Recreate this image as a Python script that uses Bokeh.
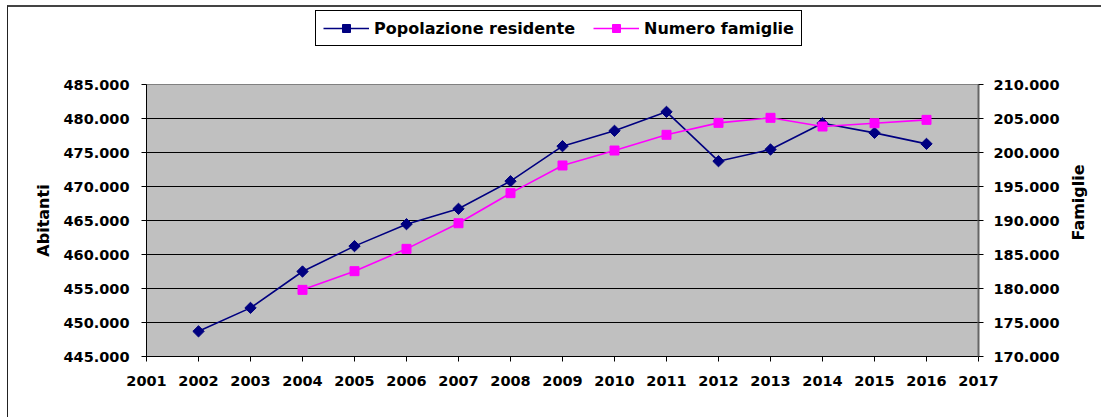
import math
from bokeh.plotting import figure
from bokeh.layouts import column, row
from bokeh.models import (Range1d, LinearAxis, FixedTicker, CustomJSTickFormatter,
                          Legend, LegendItem, Label)
from bokeh.embed import file_html
from bokeh.resources import INLINE

# ---- data ----
years_pop = [2002, 2003, 2004, 2005, 2006, 2007, 2008, 2009, 2010, 2011, 2012, 2013, 2014, 2015, 2016]
popolazione = [448700, 452150, 457500, 461230, 464460, 466720, 470780, 475930, 478190, 480980,
               473720, 475440, 479310, 477890, 476270]
years_fam = [2004, 2005, 2006, 2007, 2008, 2009, 2010, 2011, 2012, 2013, 2014, 2015, 2016]
famiglie = [179800, 182550, 185830, 189600, 194020, 198090, 200290, 202600, 204360, 205100,
            203820, 204310, 204800]
x_ticks = list(range(2001, 2018))
left_ticks = list(range(445000, 485001, 5000))
right_ticks = list(range(170000, 210001, 5000))
series_labels = ["Popolazione residente", "Numero famiglie"]
axis_titles = ["Abitanti", "Famiglie"]

FONT = "DejaVu Sans"
NAVY = "#000080"
MAGENTA = "#FF00FF"
fmt_code = "return Math.round(tick).toString().replace(/\\B(?=(\\d{3})+(?!\\d))/g, '.');"

# ---- main chart ----
p = figure(width=1054, height=365, output_backend="svg", toolbar_location=None,
           x_range=Range1d(2001, 2017), y_range=Range1d(445000, 485000),
           min_border_left=138, min_border_right=83, min_border_top=32, min_border_bottom=61,
           background_fill_color="#C0C0C0", border_fill_color="white",
           outline_line_color="#808080", outline_line_width=1)
p.extra_y_ranges = {"fam": Range1d(170000, 210000)}

p.xgrid.visible = False
p.ygrid.ticker = FixedTicker(ticks=left_ticks)
p.ygrid.grid_line_color = "black"
p.ygrid.grid_line_width = 1

xa = p.xaxis[0]
xa.ticker = FixedTicker(ticks=x_ticks)
ya = p.yaxis[0]
ya.ticker = FixedTicker(ticks=left_ticks)
ya.formatter = CustomJSTickFormatter(code=fmt_code)
ya.axis_label = axis_titles[0]
ya.major_label_standoff = 12
ya.axis_label_standoff = 7

ra = LinearAxis(y_range_name="fam", ticker=FixedTicker(ticks=right_ticks),
                formatter=CustomJSTickFormatter(code=fmt_code))
ra.major_label_standoff = 10
p.add_layout(ra, "right")

for ax in [xa, ya, ra]:
    ax.major_label_text_font = FONT
    ax.major_label_text_font_style = "bold"
    ax.major_label_text_font_size = "14.5px"
    ax.major_label_text_color = "black"
    ax.axis_label_text_font = FONT
    ax.axis_label_text_font_style = "bold"
    ax.axis_label_text_font_size = "16px"
    ax.axis_label_text_color = "black"
    ax.axis_line_color = "black"
    ax.major_tick_line_color = "black"
    ax.major_tick_out = 5
    ax.major_tick_in = 0
    ax.minor_tick_line_color = None
xa.major_label_standoff = 14
ra.axis_line_color = "#666666"
ra.axis_line_width = 2

p.line(years_pop, popolazione, line_color=NAVY, line_width=1.6)
p.scatter(years_pop, popolazione, marker="square", angle=math.pi / 4, size=8,
          fill_color=NAVY, line_color=NAVY)
p.line(years_fam, famiglie, line_color=MAGENTA, line_width=1.6, y_range_name="fam")
p.scatter(years_fam, famiglie, marker="square", size=9, fill_color=MAGENTA,
          line_color=MAGENTA, y_range_name="fam")

# ---- legend strip (swatch renderers carry NaN only, so they draw nothing themselves) ----
lg = figure(width=1054, height=45, output_backend="svg", toolbar_location=None,
            x_range=Range1d(0, 1), y_range=Range1d(0, 1), x_axis_type=None, y_axis_type=None,
            min_border=0, outline_line_color=None, background_fill_color="white",
            border_fill_color="white")
lg.grid.visible = False
nan = [float("nan")]
l1 = lg.line(nan, nan, line_color=NAVY, line_width=1.6)
m1 = lg.scatter(nan, nan, marker="square", angle=math.pi / 4, size=8, fill_color=NAVY, line_color=NAVY)
l2 = lg.line(nan, nan, line_color=MAGENTA, line_width=1.6)
m2 = lg.scatter(nan, nan, marker="square", size=9, fill_color=MAGENTA, line_color=MAGENTA)

legend = Legend(items=[LegendItem(label=series_labels[0], renderers=[l1, m1]),
                       LegendItem(label=series_labels[1], renderers=[l2, m2])],
                orientation="horizontal", location=(169, 6),
                label_text_font=FONT, label_text_font_style="bold", label_text_font_size="16px",
                label_text_color="black", glyph_width=46, glyph_height=20, label_standoff=5,
                spacing=18, padding=7, margin=0,
                border_line_color="black", border_line_width=1, border_line_alpha=1,
                background_fill_color="white", background_fill_alpha=1)
lg.add_layout(legend, "center")

left_block = column(lg, p, spacing=0, margin=(5, 0, 0, 7),
                    styles={"border-left": "1px solid #222222", "border-top": "2px solid #444444"})

# ---- right-hand axis title strip ----
side = figure(width=39, height=410, output_backend="svg", toolbar_location=None,
              x_range=Range1d(0, 1), y_range=Range1d(0, 1), x_axis_type=None, y_axis_type=None,
              min_border=0, outline_line_color=None, background_fill_color="white",
              border_fill_color="white",
              styles={"border-top": "2px solid #444444", "margin-top": "5px"})
side.grid.visible = False
side.add_layout(Label(x=16, y=215, x_units="screen", y_units="screen", text=axis_titles[1],
                      angle=math.pi / 2, text_align="center", text_baseline="middle",
                      text_font=FONT, text_font_style="bold", text_font_size="16px",
                      text_color="black"))

layout = row(left_block, side, spacing=0)

open("out.html", "w").write(file_html(layout, INLINE))
